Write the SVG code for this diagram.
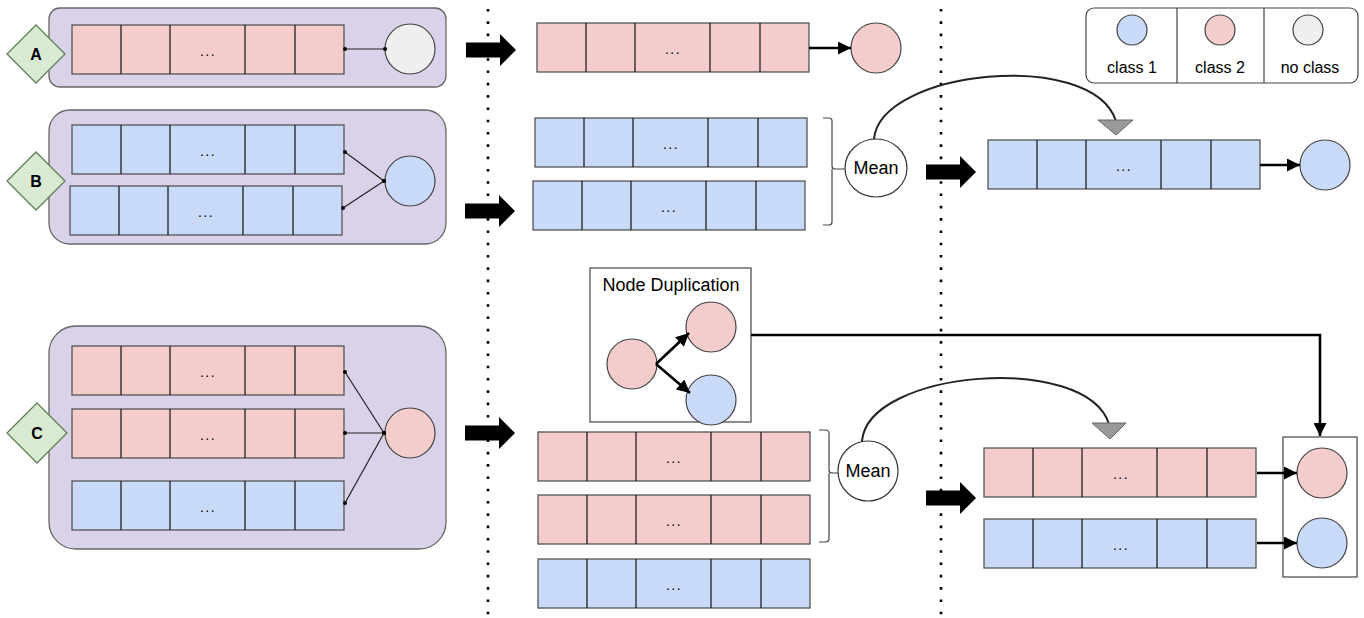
<svg xmlns="http://www.w3.org/2000/svg" xmlns:xlink="http://www.w3.org/1999/xlink" width="1364" height="618" viewBox="0 0 1364 618">
  <style>
    text { font-family: "Liberation Sans", Arial, sans-serif; fill: #000; }
    .dots { font-size: 14px; letter-spacing: 1.5px; text-anchor: middle; }
    .tag { font-size: 16px; font-weight: bold; text-anchor: middle; }
    .lbl { font-size: 16px; text-anchor: middle; }
    .mean { font-size: 18px; text-anchor: middle; }
    .panel { fill: #d9d2e9; stroke: #666; stroke-width: 1.3; }
    .diamond { fill: #d9ead3; stroke: #5f7f55; stroke-width: 1.3; }
    .c-blue { fill: #c9daf8; stroke: #444; stroke-width: 1.2; }
    .c-pink { fill: #f4cccc; stroke: #444; stroke-width: 1.2; }
    .c-grey { fill: #efefef; stroke: #444; stroke-width: 1.2; }
    .thin { stroke: #222; stroke-width: 1.2; fill: none; marker-start: url(#dot); marker-end: url(#dot); }
    .bold { stroke: #000; stroke-width: 2.6; fill: none; marker-end: url(#head); }
    .curve { stroke: #222; stroke-width: 2; fill: none; }
    .tri { fill: #999; stroke: #666; stroke-width: 1; }
    .sep { stroke: #000; stroke-width: 2.6; stroke-dasharray: 2.6 9.7; fill: none; }
    .brace { stroke: #444; stroke-width: 1.2; fill: none; }
    .box { fill: #fff; stroke: #444; stroke-width: 1.2; }
  </style>
  <defs>
    <marker id="dot" viewBox="0 0 6 6" refX="3" refY="3" markerWidth="4" markerHeight="4" markerUnits="userSpaceOnUse">
      <circle cx="3" cy="3" r="3" fill="#000"/>
    </marker>
    <marker id="head" viewBox="0 0 10 10" refX="10" refY="5" markerWidth="17" markerHeight="13" markerUnits="userSpaceOnUse" orient="auto">
      <path d="M0 0 L10 5 L0 10 Z" fill="#000"/>
    </marker>
    <!-- five-cell sequence frames -->
    <g id="row-pink">
      <rect width="272" height="49" fill="#f4cccc" stroke="#555" stroke-width="1.3"/>
      <path d="M49 0V49M98 0V49M173 0V49M223 0V49" stroke="#111" stroke-width="1.2"/>
    </g>
    <g id="row-blue">
      <rect width="272" height="49" fill="#c9daf8" stroke="#555" stroke-width="1.3"/>
      <path d="M49 0V49M98 0V49M173 0V49M223 0V49" stroke="#111" stroke-width="1.2"/>
    </g>
    <path id="block" d="M0 -7.5H34V-16L50 0L34 16V7.5H0Z" fill="#000"/>
  </defs>

  <!-- stage separators -->
  <g id="separators">
    <line class="sep" x1="488" y1="9" x2="488" y2="618"/>
    <line class="sep" x1="941" y1="9" x2="941" y2="618"/>
  </g>

  <!-- legend -->
  <g id="legend">
    <rect x="1086" y="8" width="272" height="75" rx="8" fill="#fff" stroke="#444" stroke-width="1.2"/>
    <path d="M1177 8V83M1264 8V83" stroke="#444" stroke-width="1.2"/>
    <circle class="c-blue" cx="1132" cy="30" r="15"/>
    <circle class="c-pink" cx="1220" cy="30" r="15"/>
    <circle class="c-grey" cx="1308" cy="30" r="15"/>
    <text class="lbl" x="1132" y="73">class 1</text>
    <text class="lbl" x="1220" y="73">class 2</text>
    <text class="lbl" x="1310" y="73">no class</text>
  </g>

  <!-- case A -->
  <g id="case-a">
    <rect class="panel" x="49" y="8" width="397" height="79" rx="11"/>
    <polygon class="diamond" points="36,25 65,54 36,83 7,54"/>
    <text class="tag" x="36" y="60">A</text>
    <use xlink:href="#row-pink" x="72" y="25"/>
    <text class="dots" x="208" y="56">...</text>
    <circle class="c-grey" cx="410" cy="49" r="25"/>
  </g>

  <!-- case B -->
  <g id="case-b">
    <rect class="panel" x="49" y="110" width="397" height="134" rx="21"/>
    <polygon class="diamond" points="36,152 65,181 36,210 7,181"/>
    <text class="tag" x="36" y="187">B</text>
    <use xlink:href="#row-blue" x="72" y="125"/>
    <text class="dots" x="208" y="156">...</text>
    <use xlink:href="#row-blue" x="70" y="186"/>
    <text class="dots" x="206" y="217">...</text>
    <circle class="c-blue" cx="410" cy="181" r="25"/>
  </g>

  <!-- case C -->
  <g id="case-c">
    <rect class="panel" x="49" y="326" width="397" height="223" rx="27"/>
    <polygon class="diamond" points="37,403 67,433 37,463 7,433"/>
    <text class="tag" x="37" y="439">C</text>
    <use xlink:href="#row-pink" x="72" y="346"/>
    <text class="dots" x="208" y="377">...</text>
    <use xlink:href="#row-pink" x="72" y="409"/>
    <text class="dots" x="208" y="440">...</text>
    <use xlink:href="#row-blue" x="72" y="481"/>
    <text class="dots" x="208" y="512">...</text>
    <circle class="c-pink" cx="410" cy="433" r="25"/>
  </g>

  <!-- stage 2: A -->
  <g id="a-labelled">
    <use xlink:href="#row-pink" x="537" y="23"/>
    <text class="dots" x="673" y="54">...</text>
    <circle class="c-pink" cx="876" cy="48" r="25"/>
  </g>

  <!-- stage 2: B -->
  <g id="b-sequences">
    <use xlink:href="#row-blue" x="535" y="118"/>
    <text class="dots" x="671" y="149">...</text>
    <use xlink:href="#row-blue" x="533" y="181"/>
    <text class="dots" x="669" y="212">...</text>
    <path class="brace" d="M823 118H829Q832 118 832 121V166Q832 169 835 169H845M832 169V222Q832 225 829 225H823"/>
  </g>
  <g id="b-mean">
    <ellipse cx="876" cy="168" rx="31" ry="29" fill="#fff" stroke="#333" stroke-width="1.2"/>
    <text class="mean" x="876" y="174">Mean</text>
  </g>

  <!-- stage 3: B -->
  <g id="b-result">
    <use xlink:href="#row-blue" x="988" y="140"/>
    <text class="dots" x="1124" y="171">...</text>
    <circle class="c-blue" cx="1325" cy="165" r="25"/>
  </g>

  <!-- node duplication inset -->
  <g id="node-duplication">
    <rect class="box" x="590" y="268" width="161" height="154"/>
    <text x="671" y="291" font-size="18" text-anchor="middle">Node Duplication</text>
    <circle class="c-pink" cx="632" cy="364" r="25"/>
    <circle class="c-pink" cx="711" cy="327" r="25"/>
    <circle class="c-blue" cx="711" cy="400" r="25"/>
  </g>

  <!-- stage 2: C -->
  <g id="c-sequences">
    <use xlink:href="#row-pink" x="538" y="432"/>
    <text class="dots" x="674" y="463">...</text>
    <use xlink:href="#row-pink" x="538" y="495"/>
    <text class="dots" x="674" y="526">...</text>
    <use xlink:href="#row-blue" x="538" y="559"/>
    <text class="dots" x="674" y="590">...</text>
    <path class="brace" d="M819 430H825Q829 430 829 433V470Q829 473 832 473H838M829 473V539Q829 542 825 542H819"/>
  </g>
  <g id="c-mean">
    <ellipse cx="868" cy="471" rx="30" ry="30" fill="#fff" stroke="#333" stroke-width="1.2"/>
    <text class="mean" x="868" y="477">Mean</text>
  </g>

  <!-- stage 3: C -->
  <g id="c-result">
    <use xlink:href="#row-pink" x="984" y="448"/>
    <text class="dots" x="1121" y="479">...</text>
    <use xlink:href="#row-blue" x="984" y="519"/>
    <text class="dots" x="1121" y="550">...</text>
    <rect class="box" x="1283" y="437" width="74" height="140" fill="none"/>
    <circle class="c-pink" cx="1322" cy="473" r="25"/>
    <circle class="c-blue" cx="1322" cy="543" r="25"/>
  </g>

  <!-- connectors -->
  <g id="connectors">
    <line class="thin" x1="345" y1="49" x2="385" y2="49"/>
    <line class="thin" x1="345" y1="152" x2="384" y2="181"/>
    <line class="thin" x1="343" y1="208" x2="384" y2="181"/>
    <line class="thin" x1="345" y1="372" x2="384" y2="433"/>
    <line class="thin" x1="345" y1="433" x2="384" y2="433"/>
    <line class="thin" x1="345" y1="503" x2="384" y2="433"/>

    <use xlink:href="#block" x="466" y="50"/>
    <use xlink:href="#block" x="465" y="211"/>
    <use xlink:href="#block" x="465" y="433"/>
    <use xlink:href="#block" x="926" y="172"/>
    <use xlink:href="#block" x="926" y="498"/>

    <line class="bold" x1="809" y1="48" x2="851" y2="48"/>
    <line class="bold" x1="1260" y1="165" x2="1300" y2="165"/>
    <line class="bold" x1="1257" y1="473" x2="1297" y2="473"/>
    <line class="bold" x1="1257" y1="543" x2="1297" y2="543"/>

    <line class="bold" x1="656" y1="364" x2="689" y2="333"/>
    <line class="bold" x1="656" y1="364" x2="690" y2="393"/>
    <path class="bold" d="M751 335H1320V436"/>

    <path class="curve" d="M874 139C880 70 1092 48 1116 121"/>
    <polygon class="tri" points="1098,120 1133,120 1116,135"/>
    <path class="curve" d="M862 441C868 370 1086 352 1109 424"/>
    <polygon class="tri" points="1092,423 1126,423 1110,439"/>
  </g>
</svg>
